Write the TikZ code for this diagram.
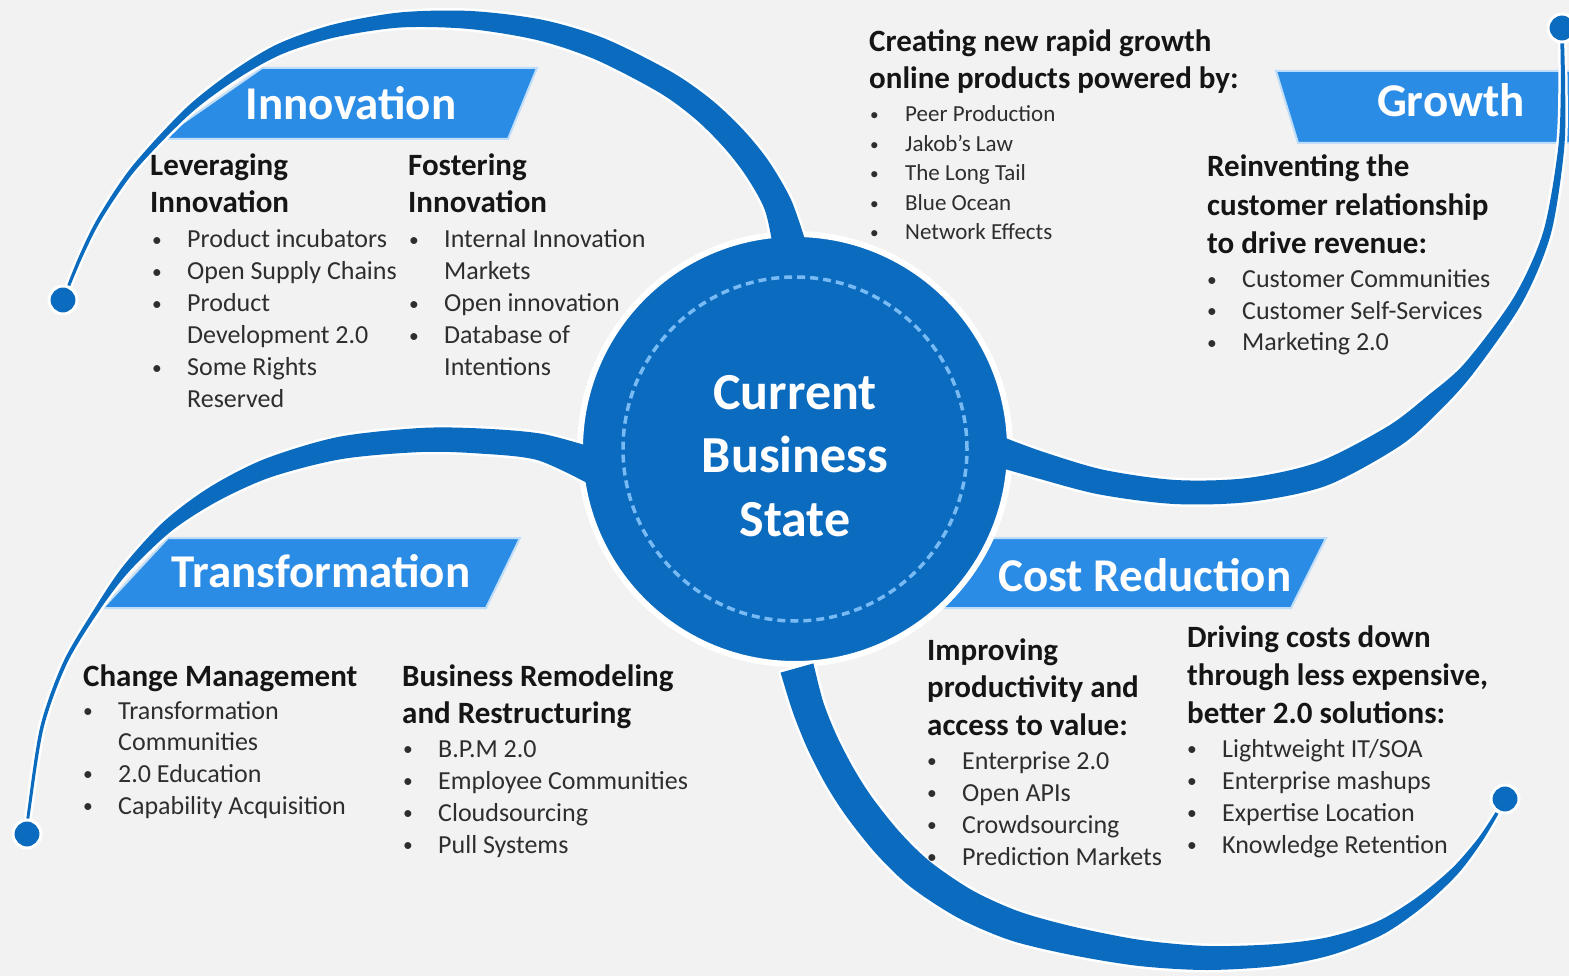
\documentclass[tikz,border=0pt]{standalone}
\usepackage{fontspec}
\usepackage{graphicx}
\setmainfont{Carlito}
\definecolor{bgc}{HTML}{F2F2F2}
\definecolor{dblue}{HTML}{0B6BBF}
\definecolor{lblue}{HTML}{2B8CE6}
\definecolor{dashc}{HTML}{78BAF3}
\definecolor{headc}{HTML}{151515}
\definecolor{bulc}{HTML}{2E2E2E}
\newcommand\tl[1]{\begin{tabular}[t]{@{}l@{}}#1\end{tabular}}
\newcommand\tc[1]{\begin{tabular}[t]{@{}c@{}}#1\end{tabular}}
\newcommand\bu{\makebox[35pt][l]{\raisebox{0.06em}{\scalebox{0.75}{•}}}}
\newcommand\nb{\hspace*{35pt}}
\begin{document}
\begin{tikzpicture}[x=1pt,y=-1pt,
 hd/.style={anchor=base west,inner sep=0pt,text=headc,font=\fontsize{31}{37}\selectfont\bfseries},
 bl/.style={anchor=base west,inner sep=0pt,text=bulc,font=\fontsize{26}{32}\selectfont},
 bn/.style={anchor=base,inner sep=0pt,text=white,font=\fontsize{47}{56}\selectfont\bfseries},
 banner/.style={fill=lblue,draw=white!70!lblue,line width=2pt,line join=miter},
 halo/.style={draw=white,line width=5pt,line join=round},
 armfill/.style={fill=dblue},
 dotst/.style={circle,fill=dblue,draw=white,line width=3pt,minimum size=28pt,inner sep=0pt},
]
\fill[bgc] (0,0) rectangle (1569,976);
\useasboundingbox (0,0) rectangle (1569,976);

% banners
\fill[banner] (262,68) -- (537,68) -- (508,139) -- (160,139) -- cycle;
\fill[banner] (1276,71) -- (1575,71) -- (1575,143) -- (1298,143) -- cycle;
\fill[banner] (168,538) -- (520,538) -- (486,608) -- (103,608) -- cycle;
\fill[banner] (960,538) -- (1326,538) -- (1291,608) -- (930,608) -- cycle;

% arm paths
\path[save path=\pInno] plot[smooth] coordinates {(806,243) (791,199.7) (768.2,160.5) (742.6,129.2) (711,99.4) (671,71.6) (604.4,38.4) (542.3,19.8) (470.6,11) (399.4,12.5) (332.5,24.7) (277.8,44) (232.5,71.3) (185.6,108.4) (132.1,166.4) (98.3,217) (79.4,255.3) (63.6,294.6)}
 -- plot[smooth] coordinates {(66.4,295.4) (82.6,256.7) (101.7,219) (135.9,169.6) (190.4,113.6) (237.5,78.7) (282.2,54) (335.5,37.3) (400.6,27.5) (469.4,29) (537.7,40.2) (595.6,59.6) (659,92.4) (695,118.7) (723.4,146.8) (745.8,175.5) (765,210.3) (774,253)} -- cycle;
\path[save path=\pGrow] plot[smooth] coordinates {(995.4,466.3) (1036.2,477.9) (1098.6,494.3) (1174.3,504) (1249.5,501.9) (1326.3,485.7) (1400.2,445.7) (1441.4,409) (1475,371.1) (1522.3,302.5) (1550.8,234.1) (1564,150.3) (1565.2,90) (1563.8,35)}
 -- plot[smooth] coordinates {(1560.2,35) (1560.8,90) (1558,149.7) (1543.2,231.9) (1513.7,297.5) (1465,362.9) (1428.6,395) (1387.8,426.3) (1317.7,462.3) (1246.5,478.1) (1175.7,480) (1103.5,469.8) (1043.8,452.1) (1004.6,437.7)} -- cycle;
\path[save path=\pTran] plot[smooth] coordinates {(601,450) (543,434) (481,428.5) (420.4,428) (338,437) (264.7,459) (210,487) (164,521.4) (123,566.4) (94,609.6) (63.2,662.2) (40.3,726.6) (27.5,810) (25.5,830)}
 -- plot[smooth] coordinates {(28.5,830) (30.5,810) (43.7,727.4) (66.8,663.8) (98,612.4) (129,571.6) (172,530.6) (218,501) (271.3,477) (342,459) (421.6,452) (479,453.5) (537,460) (589,484)} -- cycle;
\path[save path=\pCost] plot[smooth] coordinates {(780.6,672.6) (792.8,712.1) (807.5,748.7) (826.1,785) (847.1,817.4) (876.2,853.8) (910.1,886.5) (957.6,917.6) (1010.1,940.2) (1070,954.7) (1138.4,965.9) (1206.8,970) (1277.1,965.9) (1332.3,954.7) (1383.1,934.3) (1423.3,906.4) (1457.9,873.8) (1482,841.5) (1498.5,813.8)}
 -- plot[smooth] coordinates {(1495.5,812.2) (1478,838.5) (1452.1,868.2) (1416.7,897.6) (1376.9,921.7) (1327.7,937.3) (1274.9,944.1) (1207.2,946) (1141.6,940.1) (1076,927.3) (1019.9,911.8) (972.4,890.4) (929.9,861.5) (899.8,832.2) (872.9,798.6) (853.9,769) (836.5,735.3) (823.2,701.9) (813.4,663.4)} -- cycle;

% halos
\path[halo,use path=\pInno];
\path[halo,use path=\pGrow];
\path[halo,use path=\pTran];
\path[halo,use path=\pCost];

% central circle
\node[circle,fill=dblue,draw=white,line width=6pt,minimum size=430pt,inner sep=0pt] (core) at (795,449) {};

% arm fills
\path[armfill,use path=\pInno];
\path[armfill,use path=\pGrow];
\path[armfill,use path=\pTran];
\path[armfill,use path=\pCost];

% dashed ring
\node[circle,draw=dashc,line width=3.5pt,dash pattern=on 8pt off 5pt,minimum size=344pt,inner sep=0pt] (ring) at (795,449) {};

% end dots
\node[dotst] (dInno) at (63,300) {};
\node[dotst] (dGrow) at (1562,28) {};
\node[dotst] (dTran) at (27,834) {};
\node[dotst] (dCost) at (1505,799) {};

% centre text
\node[anchor=base,inner sep=0pt,text=white,font=\fontsize{52}{63.5}\selectfont\bfseries] (ctext) at (795,409) {\tc{Current\\Business\\State}};

% banner labels
\node[bn] (lInno) at (351,120) {Innovation};
\node[bn] (lGrow) at (1451,117) {Growth};
\node[bn] (lTran) at (321,587) {Transformation};
\node[bn] (lCost) at (1145,591) {Cost Reduction};

% Innovation texts
\node[hd] (h1) at (150,176) {\tl{Leveraging\\Innovation}};
\node[bl] (b1) at (152,248) {\tl{\bu Product incubators\\\bu Open Supply Chains\\\bu Product\\\nb Development 2.0\\\bu Some Rights\\\nb Reserved}};
\node[hd] (h2) at (408,176) {\tl{Fostering\\Innovation}};
\node[bl] (b2) at (409,248) {\tl{\bu Internal Innovation\\\nb Markets\\\bu Open innovation\\\bu Database of\\\nb Intentions}};

% Growth texts
\node[hd] (h3) at (869,52) {\tl{Creating new rapid growth\\online products powered by:}};
\node[bl,font=\fontsize{23}{29.5}\selectfont] (b3) at (870,122) {\tl{\bu Peer Production\\\bu Jakob's Law\\\bu The Long Tail\\\bu Blue Ocean\\\bu Network Effects}};
\node[hd,font=\fontsize{31}{38.5}\selectfont\bfseries] (h4) at (1207,177) {\tl{Reinventing the\\customer relationship\\to drive revenue:}};
\node[bl,font=\fontsize{26}{31.5}\selectfont] (b4) at (1207,288) {\tl{\bu Customer Communities\\\bu Customer Self-Services\\\bu Marketing 2.0}};

% Transformation texts
\node[hd] (h5) at (83,686) {Change Management};
\node[bl,font=\fontsize{26}{31.7}\selectfont] (b5) at (83,719) {\tl{\bu Transformation\\\nb Communities\\\bu 2.0 Education\\\bu Capability Acquisition}};
\node[hd] (h6) at (402,686) {\tl{Business Remodeling\\and Restructuring}};
\node[bl] (b6) at (403,757) {\tl{\bu B.P.M 2.0\\\bu Employee Communities\\\bu Cloudsourcing\\\bu Pull Systems}};

% Cost Reduction texts
\node[hd,font=\fontsize{31}{37.5}\selectfont\bfseries] (h7) at (927,660) {\tl{Improving\\productivity and\\access to value:}};
\node[bl] (b7) at (927,769) {\tl{\bu Enterprise 2.0\\\bu Open APIs\\\bu Crowdsourcing\\\bu Prediction Markets}};
\node[hd,font=\fontsize{31}{38}\selectfont\bfseries] (h8) at (1187,647) {\tl{Driving costs down\\through less expensive,\\better 2.0 solutions:}};
\node[bl] (b8) at (1187,757) {\tl{\bu Lightweight IT/SOA\\\bu Enterprise mashups\\\bu Expertise Location\\\bu Knowledge Retention}};
\end{tikzpicture}
\end{document}
